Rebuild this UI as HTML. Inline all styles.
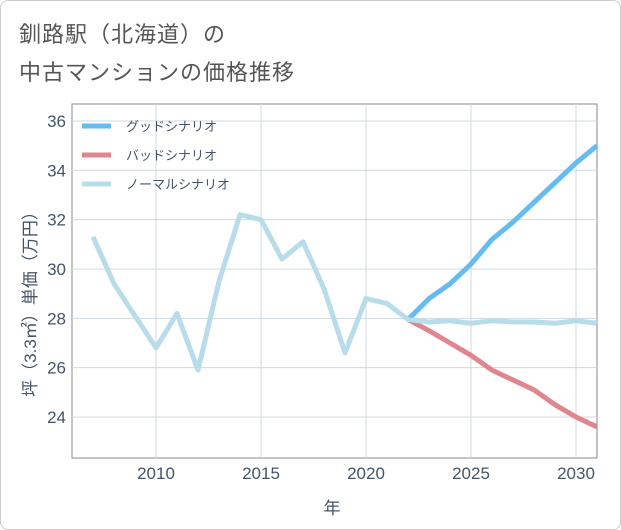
<!DOCTYPE html>
<html><head><meta charset="utf-8"><style>
body{margin:0;background:#fff;font-family:"Liberation Sans","Noto Sans CJK JP",sans-serif}
#wrap{position:relative;width:619px;height:528px;border:1px solid #ccc;border-radius:8px;overflow:hidden}
.t{position:absolute;left:18px;font-size:22px;color:#555;letter-spacing:1px}
</style></head><body>
<div id="wrap">
<div class="t" style="top:16px">釧路駅（北海道）の</div>
<div class="t" style="top:54px">中古マンションの価格推移</div>
<svg id="c" width="621" height="530" style="position:absolute;left:-1px;top:-1px"></svg>
</div>
<script>
const years=[2007,2008,2009,2010,2011,2012,2013,2014,2015,2016,2017,2018,2019,2020,2021,2022,2023,2024,2025,2026,2027,2028,2029,2030,2031];
const normal=[31.3,29.4,28.1,26.8,28.2,25.9,29.5,32.2,32.0,30.4,31.1,29.2,26.6,28.8,28.6,27.95,27.85,27.9,27.8,27.9,27.85,27.85,27.8,27.9,27.8];
const goodYears=[2022,2023,2024,2025,2026,2027,2028,2029,2030,2031];
const good=[27.95,28.8,29.4,30.2,31.2,31.9,32.7,33.5,34.3,35.0];
const bad=[27.95,27.5,27.0,26.5,25.9,25.5,25.1,24.5,24.0,23.6];
const yTicks=[24,26,28,30,32,34,36];
const xTicks=[2010,2015,2020,2025,2030];
const seriesNames=["グッドシナリオ","バッドシナリオ","ノーマルシナリオ"];
const L=72,R=597,T=104,B=458;
const x=v=>L+(v-2006)/(2031-2006)*(R-L);
const y=v=>417-(v-24)*24.67;
const s=document.getElementById('c');
function el(tag,attrs,txt){const e=document.createElementNS('http://www.w3.org/2000/svg',tag);for(const k in attrs)e.setAttribute(k,attrs[k]);if(txt!=null)e.textContent=txt;s.appendChild(e);return e;}
let r=el('rect',{x:L,y:T,width:R-L,height:B-T,fill:'#fff',stroke:'#888','stroke-width':1});


yTicks.forEach(v=>{
 let g=el('line',{x1:L,x2:R,y1:y(v),y2:y(v),stroke:'#cfd8e3'});
 
 
 let t=el('text',{x:L-6,y:y(v)+6,'text-anchor':'end','font-size':17,fill:'#44546a'},v);
 
 
});
xTicks.forEach(v=>{
 let g=el('line',{x1:x(v),x2:x(v),y1:T,y2:B,stroke:'#cfd8e3'});
 
 
 let t=el('text',{x:x(v),y:B+21,'text-anchor':'middle','font-size':17,fill:'#44546a'},v);
 
 
});
function line(xs,ys,col,name){
 let p=el('polyline',{points:xs.map((a,i)=>x(a)+','+y(ys[i])).join(' '),fill:'none',stroke:col,'stroke-width':5,'stroke-linejoin':'round'});
 
 
}
line(goodYears,bad,'#e0868e','bad-scenario-line');
line(goodYears,good,'#66bbf0','good-scenario-line');
line(years,normal,'#b8dcea','normal-scenario-line');
const cols=['#66bbf0','#e0868e','#b8dcea'];
seriesNames.forEach((n,i)=>{
 let yy=126+i*29;
 let l=el('line',{x1:82,x2:111,y1:yy,y2:yy,stroke:cols[i],'stroke-width':5});
 
 
 let t=el('text',{x:126,y:yy+5,'font-size':13,fill:'#44546a'},n);
 
 
});
let xt=el('text',{x:332,y:514,'text-anchor':'middle','font-size':17,fill:'#44546a'},'年');


let yt=el('text',{x:0,y:0,'text-anchor':'middle','font-size':17,fill:'#44546a',transform:'translate(36,300) rotate(-90)'},'坪（3.3㎡）単価（万円）');


</script>
</body></html>
